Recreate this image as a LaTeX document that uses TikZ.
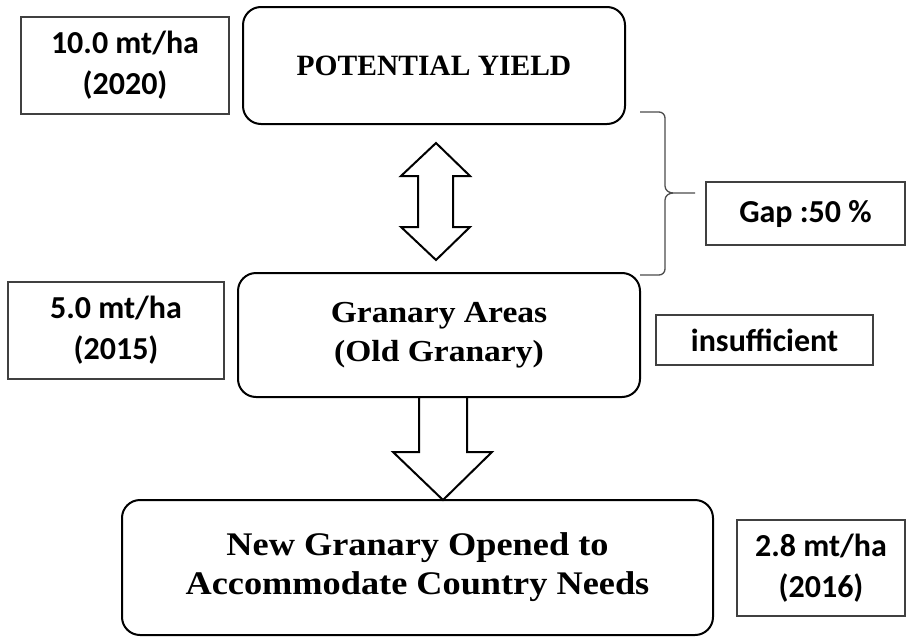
\documentclass[tikz,border=0pt]{standalone}
\usepackage{fontspec}
\setmainfont{Liberation Serif}
\newfontfamily\calfont{Carlito}
\newfontfamily\widefont[FakeStretch=1.1]{Liberation Serif}

\begin{document}
\begin{tikzpicture}[x=1pt,y=-1pt,
	stage/.style={draw,rounded corners=18pt,line width=2pt,align=center},
	yieldbox/.style={draw=black!75,line width=1.3pt,align=center,font=\calfont\bfseries\fontsize{32}{41}\selectfont},
	blockarrow/.style={draw,line width=2pt,fill=white,line join=miter}]
	\useasboundingbox (0,0) rectangle (907,637);

	% main stages
	\node[stage,minimum width=382,minimum height=117,font=\bfseries\fontsize{29.5}{39}\selectfont] (potential) at (434,65.5) {POTENTIAL YIELD};
	\node[stage,minimum width=402,minimum height=124,font=\widefont\bfseries\fontsize{30.5}{39}\selectfont] (granary) at (439,335) {Granary Areas\\(Old Granary)};
	\node[stage,minimum width=591,minimum height=135,font=\widefont\bfseries\fontsize{33}{39}\selectfont] (newgranary) at (417.5,567.5) {New Granary Opened to\\Accommodate Country Needs};

	% yields and remarks
	\node[yieldbox,minimum width=208,minimum height=97] (yield2020) at (125,65.5) {10.0 mt/ha\\(2020)};
	\node[yieldbox,minimum width=216,minimum height=97] (yield2015) at (116,330.5) {5.0 mt/ha\\(2015)};
	\node[yieldbox,minimum width=168,minimum height=96] (yield2016) at (821,568) {2.8 mt/ha\\(2016)};
	\node[yieldbox,minimum width=199,minimum height=63] (gap) at (805.5,213.5) {Gap :50 \%};
	\node[yieldbox,minimum width=217,minimum height=50] (insufficient) at (764.5,340) {insufficient};

	% arrows between stages
	\draw[blockarrow] (436,143) -- (470,176) -- (453,176) -- (453,227) -- (470,227) -- (436,260)
		-- (401,227) -- (418,227) -- (418,176) -- (401,176) -- cycle;
	\draw[blockarrow] (419,397) -- (467,397) -- (467,452) -- (492,452) -- (443,500) -- (393,452) -- (419,452) -- cycle;

	% brace for the gap
	\draw[black!70,line width=1.3pt] (640,112) -- (659,112) to[out=0,in=90] (665,118) -- (665,186)
		to[out=270,in=180] (673,193) -- (695,193);
	\draw[black!70,line width=1.3pt] (673,193) to[out=180,in=90] (665,200) -- (665,269)
		to[out=270,in=0] (659,275) -- (640,275);
\end{tikzpicture}
\end{document}
